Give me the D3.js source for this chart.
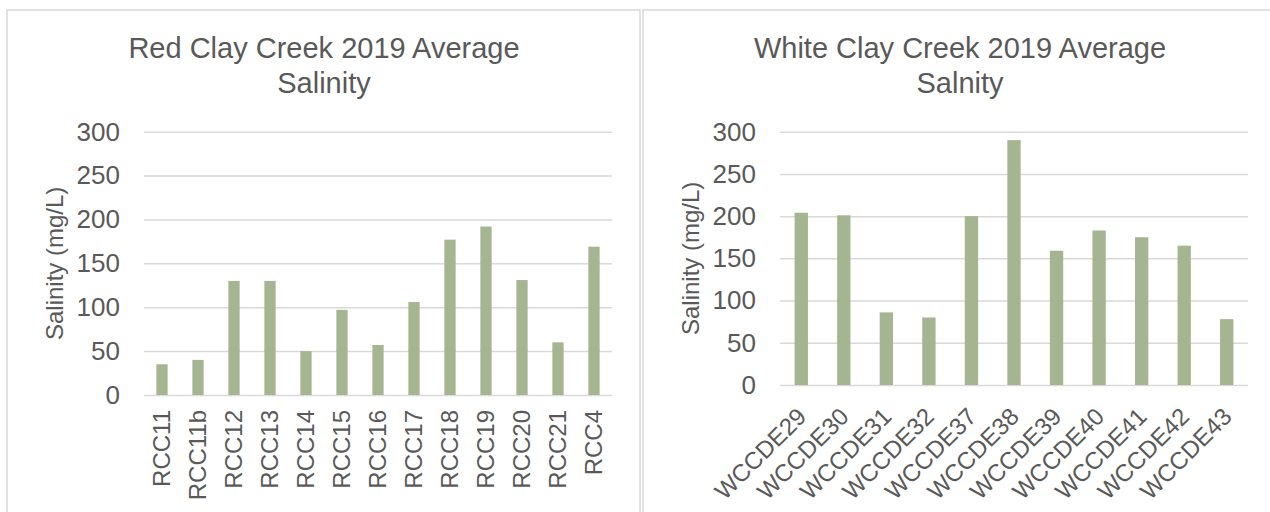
<!DOCTYPE html>
<html>
<head>
<meta charset="utf-8">
<script src="https://cdn.jsdelivr.net/npm/d3@7"></script>
<style>
  html, body { margin: 0; padding: 0; background: #ffffff; }
  svg { display: block; font-family: "Liberation Sans", Arial, sans-serif; }
</style>
</head>
<body>
<script>
// Red Clay Creek sites and their 2019 average salinity (mg/L)
const rccSites = ["RCC11", "RCC11b", "RCC12", "RCC13", "RCC14", "RCC15", "RCC16",
                  "RCC17", "RCC18", "RCC19", "RCC20", "RCC21", "RCC4"];
const rccSalinity = [35, 40, 130, 130, 50, 97, 57, 106, 177, 192, 131, 60, 169];

// White Clay Creek sites and their 2019 average salinity (mg/L)
const wccSites = ["WCCDE29", "WCCDE30", "WCCDE31", "WCCDE32", "WCCDE37", "WCCDE38",
                  "WCCDE39", "WCCDE40", "WCCDE41", "WCCDE42", "WCCDE43"];
const wccSalinity = [204, 201, 86, 80, 200, 290, 159, 183, 175, 165, 78];

const salinityTicks = [0, 50, 100, 150, 200, 250, 300];
const rccTitle = ["Red Clay Creek 2019 Average", "Salinity"];
const wccTitle = ["White Clay Creek 2019 Average", "Salnity"];
const yAxisTitle = "Salinity (mg/L)";

const W = 1270, H = 512;
const TEXT = "#595959", GRID = "#d9d9d9", BAR = "#a5b592";
const FONT = "Liberation Sans, Arial, sans-serif";

const svg = d3.select("body").append("svg")
  .attr("width", W).attr("height", H);
svg.append("rect").attr("width", W).attr("height", H).attr("fill", "#fff");

function drawChart(opt) {
  const g = svg.append("g").attr("font-family", FONT);

  // chart frame
  g.append("rect")
    .attr("x", opt.frame[0]).attr("y", opt.frame[1])
    .attr("width", opt.frame[2]).attr("height", opt.frame[3])
    .attr("fill", "none").attr("stroke", GRID).attr("stroke-width", 1.5);

  // 219% gap between bars, as in a clustered column chart
  const gap = 1 - 1 / 3.19;
  const x = d3.scaleBand().domain(opt.categories)
    .range([opt.left, opt.right])
    .paddingInner(gap).paddingOuter(gap / 2);
  const y = d3.scaleLinear().domain([0, 300]).range([opt.bottom, opt.top]);

  // value axis with gridlines
  const yAxis = d3.axisLeft(y).tickValues(salinityTicks)
    .tickSize(-(opt.right - opt.left)).tickPadding(24);
  const ya = g.append("g").attr("transform", `translate(${opt.left},0)`).call(yAxis);
  ya.select(".domain").remove();
  ya.selectAll(".tick line").attr("stroke", GRID).attr("stroke-width", 1.5);
  ya.selectAll(".tick text")
    .attr("fill", TEXT).attr("font-size", 26).attr("font-family", FONT);

  // bars
  g.append("g").selectAll("rect")
    .data(opt.values)
    .join("rect")
    .attr("x", (d, i) => x(opt.categories[i]))
    .attr("y", d => y(d))
    .attr("width", x.bandwidth())
    .attr("height", d => y(0) - y(d))
    .attr("fill", BAR);

  // category labels
  const lab = g.append("g").selectAll("text")
    .data(opt.categories)
    .join("text")
    .attr("fill", TEXT).attr("font-size", 24)
    .attr("text-anchor", "end")
    .text(d => d);
  if (opt.labelAngle === -90) {
    lab.attr("transform", d => `translate(${x(d) + x.bandwidth() / 2},${y(0) + 15}) rotate(-90)`)
       .attr("dy", "0.35em");
  } else {
    lab.attr("transform", d => `translate(${x(d) + x.bandwidth() / 2 + 6.5},${y(0) + 33}) rotate(-45)`);
  }

  // axis title
  g.append("text")
    .attr("transform", `translate(${opt.yTitleX},${(opt.top + opt.bottom) / 2}) rotate(-90)`)
    .attr("text-anchor", "middle")
    .attr("fill", TEXT).attr("font-size", 24)
    .text(yAxisTitle);

  // chart title
  const t = g.append("text")
    .attr("text-anchor", "middle")
    .attr("fill", TEXT).attr("font-size", 29);
  opt.title.forEach((line, i) => {
    t.append("tspan").attr("x", opt.titleX).attr("y", 58 + i * 34.5).text(line);
  });
}

drawChart({
  categories: rccSites, values: rccSalinity, title: rccTitle,
  frame: [7, 10, 633, 520],
  left: 144, right: 612, top: 131.7, bottom: 395,
  yTitleX: 63, titleX: 324, labelAngle: -90
});

drawChart({
  categories: wccSites, values: wccSalinity, title: wccTitle,
  frame: [643, 10, 660, 520],
  left: 780, right: 1248, top: 131.7, bottom: 385,
  yTitleX: 699, titleX: 960, labelAngle: -45
});
</script>
</body>
</html>
